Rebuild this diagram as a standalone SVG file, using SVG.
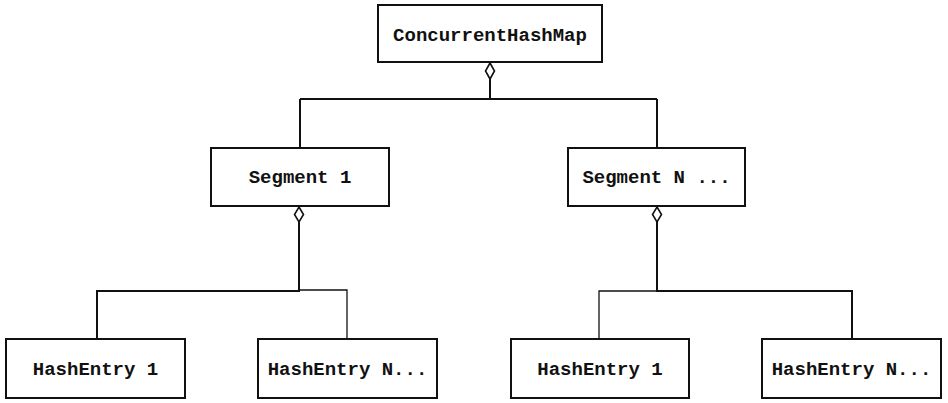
<svg xmlns="http://www.w3.org/2000/svg" width="948" height="403" viewBox="0 0 948 403">
<defs>
<style>
.box{fill:#fff;stroke:#111;stroke-width:2}
.lbl{font-family:"Liberation Mono","Courier New",monospace;font-weight:bold;font-size:19px;fill:#111;text-anchor:middle}
.ln{fill:none;stroke:#111;stroke-width:2}
.thin{fill:none;stroke:#111;stroke-width:1.3}
.dia{fill:#fff;stroke:#111;stroke-width:1.6}
</style>
</defs>
<rect width="948" height="403" fill="#fff"/>
<g id="connectors">
<path class="ln" d="M490 79 V99 M300 99 H657 M300 99 V148 M657 99 V148"/>
<polygon class="dia" points="490,63 494.5,71 490,79 485.5,71"/>
<path class="ln" d="M299 222 V291 H97 V339"/>
<path class="thin" d="M299 290 H347 V339"/>
<polygon class="dia" points="299,207 303.5,214.5 299,222 294.5,214.5"/>
<path class="ln" d="M657 222 V291 H852 V339"/>
<path class="thin" d="M657 291 H599 V339"/>
<polygon class="dia" points="657,207 661.5,214.5 657,222 652.5,214.5"/>
</g>
<g id="chm"><rect class="box" x="378" y="5" width="224" height="57"/><text class="lbl" x="490" y="41">ConcurrentHashMap</text></g>
<g id="seg1"><rect class="box" x="211" y="148" width="178" height="58"/><text class="lbl" x="300" y="183">Segment 1</text></g>
<g id="segN"><rect class="box" x="568" y="148" width="177" height="58"/><text class="lbl" x="656.5" y="183">Segment N ...</text></g>
<g id="he1a"><rect class="box" x="6" y="339" width="179" height="59"/><text class="lbl" x="95.5" y="375">HashEntry 1</text></g>
<g id="heNa"><rect class="box" x="258" y="339" width="179" height="59"/><text class="lbl" x="347.5" y="375">HashEntry N...</text></g>
<g id="he1b"><rect class="box" x="511" y="339" width="178" height="59"/><text class="lbl" x="600" y="375">HashEntry 1</text></g>
<g id="heNb"><rect class="box" x="762" y="339" width="179" height="59"/><text class="lbl" x="851.5" y="375">HashEntry N...</text></g>
</svg>
